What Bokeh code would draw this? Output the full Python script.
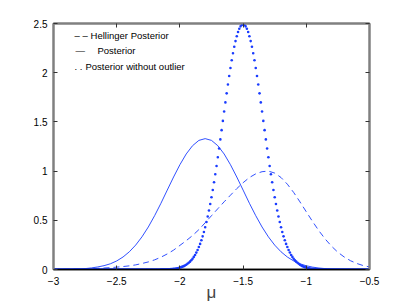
from bokeh.plotting import figure
from bokeh.models import LinearAxis, FixedTicker, Label, Range1d
from bokeh.embed import file_html
from bokeh.resources import INLINE

# ---- data ----
mu_coarse = [-3.00, -2.95, -2.90, -2.85, -2.80, -2.75, -2.70, -2.65, -2.60, -2.55,
             -2.50, -2.45, -2.40, -2.35, -2.30, -2.25, -2.20, -2.15, -2.10, -2.05,
             -2.00, -1.95, -1.90, -1.85, -1.80, -1.75, -1.70, -1.65, -1.60, -1.55,
             -1.50, -1.45, -1.40, -1.35, -1.30, -1.25, -1.20, -1.15, -1.10, -1.05,
             -1.00, -0.95, -0.90, -0.85, -0.80, -0.75, -0.70, -0.65, -0.60, -0.55,
             -0.50]

posterior = [0.000, 0.001, 0.002, 0.003, 0.005, 0.009, 0.016, 0.026, 0.039, 0.058,
             0.087, 0.127, 0.180, 0.248, 0.332, 0.432, 0.547, 0.673, 0.807, 0.940,
             1.065, 1.174, 1.258, 1.312, 1.330, 1.312, 1.258, 1.174, 1.065, 0.940,
             0.807, 0.673, 0.547, 0.432, 0.332, 0.248, 0.180, 0.127, 0.087, 0.058,
             0.038, 0.024, 0.015, 0.009, 0.005, 0.003, 0.002, 0.001, 0.000, 0.000,
             0.000]

hellinger = [0.002, 0.003, 0.003, 0.004, 0.006, 0.007, 0.009, 0.012, 0.015, 0.019,
             0.024, 0.030, 0.037, 0.047, 0.061, 0.077, 0.098, 0.125, 0.158, 0.197,
             0.245, 0.293, 0.345, 0.405, 0.475, 0.547, 0.618, 0.688, 0.755, 0.822,
             0.882, 0.935, 0.972, 0.994, 1.000, 0.980, 0.935, 0.867, 0.783, 0.687,
             0.586, 0.487, 0.393, 0.309, 0.236, 0.175, 0.127, 0.089, 0.061, 0.040,
             0.026]

mu_dense = [
    -3.00, -2.99, -2.98, -2.97, -2.96, -2.95, -2.94, -2.93, -2.92, -2.91,
    -2.90, -2.89, -2.88, -2.87, -2.86, -2.85, -2.84, -2.83, -2.82, -2.81,
    -2.80, -2.79, -2.78, -2.77, -2.76, -2.75, -2.74, -2.73, -2.72, -2.71,
    -2.70, -2.69, -2.68, -2.67, -2.66, -2.65, -2.64, -2.63, -2.62, -2.61,
    -2.60, -2.59, -2.58, -2.57, -2.56, -2.55, -2.54, -2.53, -2.52, -2.51,
    -2.50, -2.49, -2.48, -2.47, -2.46, -2.45, -2.44, -2.43, -2.42, -2.41,
    -2.40, -2.39, -2.38, -2.37, -2.36, -2.35, -2.34, -2.33, -2.32, -2.31,
    -2.30, -2.29, -2.28, -2.27, -2.26, -2.25, -2.24, -2.23, -2.22, -2.21,
    -2.20, -2.19, -2.18, -2.17, -2.16, -2.15, -2.14, -2.13, -2.12, -2.11,
    -2.10, -2.09, -2.08, -2.07, -2.06, -2.05, -2.04, -2.03, -2.02, -2.01,
    -2.00, -1.99, -1.98, -1.97, -1.96, -1.95, -1.94, -1.93, -1.92, -1.91,
    -1.90, -1.89, -1.88, -1.87, -1.86, -1.85, -1.84, -1.83, -1.82, -1.81,
    -1.80, -1.79, -1.78, -1.77, -1.76, -1.75, -1.74, -1.73, -1.72, -1.71,
    -1.70, -1.69, -1.68, -1.67, -1.66, -1.65, -1.64, -1.63, -1.62, -1.61,
    -1.60, -1.59, -1.58, -1.57, -1.56, -1.55, -1.54, -1.53, -1.52, -1.51,
    -1.50, -1.49, -1.48, -1.47, -1.46, -1.45, -1.44, -1.43, -1.42, -1.41,
    -1.40, -1.39, -1.38, -1.37, -1.36, -1.35, -1.34, -1.33, -1.32, -1.31,
    -1.30, -1.29, -1.28, -1.27, -1.26, -1.25, -1.24, -1.23, -1.22, -1.21,
    -1.20, -1.19, -1.18, -1.17, -1.16, -1.15, -1.14, -1.13, -1.12, -1.11,
    -1.10, -1.09, -1.08, -1.07, -1.06, -1.05, -1.04, -1.03, -1.02, -1.01,
    -1.00, -0.99, -0.98, -0.97, -0.96, -0.95, -0.94, -0.93, -0.92, -0.91,
    -0.90, -0.89, -0.88, -0.87, -0.86, -0.85, -0.84, -0.83, -0.82, -0.81,
    -0.80, -0.79, -0.78, -0.77, -0.76, -0.75, -0.74, -0.73, -0.72, -0.71,
    -0.70, -0.69, -0.68, -0.67, -0.66, -0.65, -0.64, -0.63, -0.62, -0.61,
    -0.60, -0.59, -0.58, -0.57, -0.56, -0.55, -0.54, -0.53, -0.52, -0.51,
    -0.50]

posterior_no_outlier = [
    0.000, 0.000, 0.000, 0.000, 0.000, 0.000, 0.000, 0.000, 0.000, 0.000,
    0.000, 0.000, 0.000, 0.000, 0.000, 0.000, 0.000, 0.000, 0.000, 0.000,
    0.000, 0.000, 0.000, 0.000, 0.000, 0.000, 0.000, 0.000, 0.000, 0.000,
    0.000, 0.000, 0.000, 0.000, 0.000, 0.000, 0.000, 0.000, 0.000, 0.000,
    0.000, 0.000, 0.000, 0.000, 0.000, 0.000, 0.000, 0.000, 0.000, 0.000,
    0.000, 0.000, 0.000, 0.000, 0.000, 0.000, 0.000, 0.000, 0.000, 0.000,
    0.000, 0.000, 0.000, 0.000, 0.000, 0.000, 0.000, 0.000, 0.000, 0.000,
    0.000, 0.000, 0.000, 0.000, 0.000, 0.000, 0.000, 0.000, 0.000, 0.000,
    0.000, 0.000, 0.000, 0.000, 0.000, 0.001, 0.001, 0.001, 0.001, 0.002,
    0.002, 0.003, 0.003, 0.004, 0.005, 0.007, 0.008, 0.010, 0.013, 0.016,
    0.020, 0.024, 0.029, 0.034, 0.041, 0.049, 0.058, 0.068, 0.080, 0.094,
    0.110, 0.128, 0.148, 0.172, 0.198, 0.228, 0.260, 0.297, 0.337, 0.381,
    0.429, 0.482, 0.539, 0.600, 0.665, 0.735, 0.808, 0.886, 0.968, 1.052,
    1.140, 1.230, 1.322, 1.416, 1.510, 1.605, 1.698, 1.790, 1.880, 1.966,
    2.048, 2.126, 2.197, 2.263, 2.321, 2.371, 2.413, 2.447, 2.471, 2.485,
    2.490, 2.485, 2.471, 2.447, 2.413, 2.371, 2.321, 2.263, 2.197, 2.126,
    2.048, 1.966, 1.880, 1.790, 1.698, 1.605, 1.510, 1.416, 1.322, 1.230,
    1.140, 1.052, 0.968, 0.886, 0.808, 0.735, 0.665, 0.600, 0.539, 0.482,
    0.429, 0.381, 0.337, 0.297, 0.260, 0.228, 0.198, 0.172, 0.148, 0.128,
    0.110, 0.094, 0.080, 0.068, 0.058, 0.049, 0.041, 0.034, 0.029, 0.024,
    0.020, 0.016, 0.013, 0.010, 0.008, 0.007, 0.005, 0.004, 0.003, 0.003,
    0.002, 0.002, 0.001, 0.001, 0.001, 0.001, 0.000, 0.000, 0.000, 0.000,
    0.000, 0.000, 0.000, 0.000, 0.000, 0.000, 0.000, 0.000, 0.000, 0.000,
    0.000, 0.000, 0.000, 0.000, 0.000, 0.000, 0.000, 0.000, 0.000, 0.000,
    0.000, 0.000, 0.000, 0.000, 0.000, 0.000, 0.000, 0.000, 0.000, 0.000,
    0.000]

x_ticks = [-3, -2.5, -2, -1.5, -1, -0.5]
x_tick_labels = ["\u22123", "\u22122.5", "\u22122", "\u22121.5", "\u22121", "\u22120.5"]
y_ticks = [0, 0.5, 1, 1.5, 2, 2.5]
y_tick_labels = ["0", "0.5", "1", "1.5", "2", "2.5"]

legend_samples = ["\u2013 \u2013", "\u2014", ". ."]
legend_labels = ["Hellinger Posterior", "Posterior", "Posterior without outlier"]
x_label = "\u03bc"

# ---- styling ----
BLUE = "#1a3cff"
GREY = "#808080"
FONT = "Liberation Sans"

p = figure(width=405, height=304, output_backend="svg", toolbar_location=None,
           x_range=Range1d(-3, -0.5), y_range=Range1d(0, 2.5),
           min_border_left=53, min_border_right=36, min_border_top=23,
           min_border_bottom=34, x_axis_location=None, y_axis_location=None)
p.grid.visible = False
p.outline_line_color = GREY
p.outline_line_width = 2
p.background_fill_color = "white"
p.border_fill_color = "white"

p.line(mu_coarse, posterior, line_color=BLUE, line_width=0.9)
p.line(mu_coarse, hellinger, line_color=BLUE, line_width=0.9, line_dash="6 4")
p.scatter(mu_dense, posterior_no_outlier, marker="circle", size=2.6,
          fill_color=BLUE, line_color=None)

def style_axis(ax, ticks, labels, line_color, show_labels):
    ax.ticker = FixedTicker(ticks=ticks)
    ax.major_label_overrides = {t: l for t, l in zip(ticks, labels)}
    ax.minor_tick_line_color = None
    ax.major_tick_in = 4
    ax.major_tick_out = 0
    ax.major_tick_line_color = "#333333"
    ax.axis_line_color = line_color
    ax.axis_line_width = 2 if line_color == GREY else 1.5
    ax.major_label_text_font = FONT
    ax.major_label_text_color = "black"
    if show_labels:
        ax.major_label_text_font_size = "10px"
        ax.major_label_standoff = 6
    else:
        ax.major_label_text_font_size = "0px"
        ax.major_label_standoff = 0

xb = LinearAxis()
style_axis(xb, x_ticks, x_tick_labels, "black", True)
xb.major_label_standoff = 7
xb.axis_label = x_label
xb.axis_label_text_font = FONT
xb.axis_label_text_font_size = "17px"
xb.axis_label_text_font_style = "normal"
xb.axis_label_standoff = -5
p.add_layout(xb, "below")

yl = LinearAxis()
style_axis(yl, y_ticks, y_tick_labels, GREY, True)
p.add_layout(yl, "left")

xt = LinearAxis()
style_axis(xt, x_ticks, ["" for _ in x_ticks], GREY, False)
p.add_layout(xt, "above")

yr = LinearAxis()
style_axis(yr, y_ticks, ["" for _ in y_ticks], GREY, False)
p.add_layout(yr, "right")

# legend drawn as plain text lines, like the original
sample_x = [-2.834, -2.826, -2.834]
label_x = [-2.707, -2.652, -2.747]
row_y = [2.375, 2.225, 2.065]
for sx, lx, ry, s, t in zip(sample_x, label_x, row_y, legend_samples, legend_labels):
    p.add_layout(Label(x=sx, y=ry, text=s, text_font=FONT, text_font_size="9.5px",
                       text_baseline="middle", text_color="black"))
    p.add_layout(Label(x=lx, y=ry, text=t, text_font=FONT, text_font_size="9.5px",
                       text_baseline="middle", text_color="black"))

open("out.html", "w").write(file_html(p, INLINE))
